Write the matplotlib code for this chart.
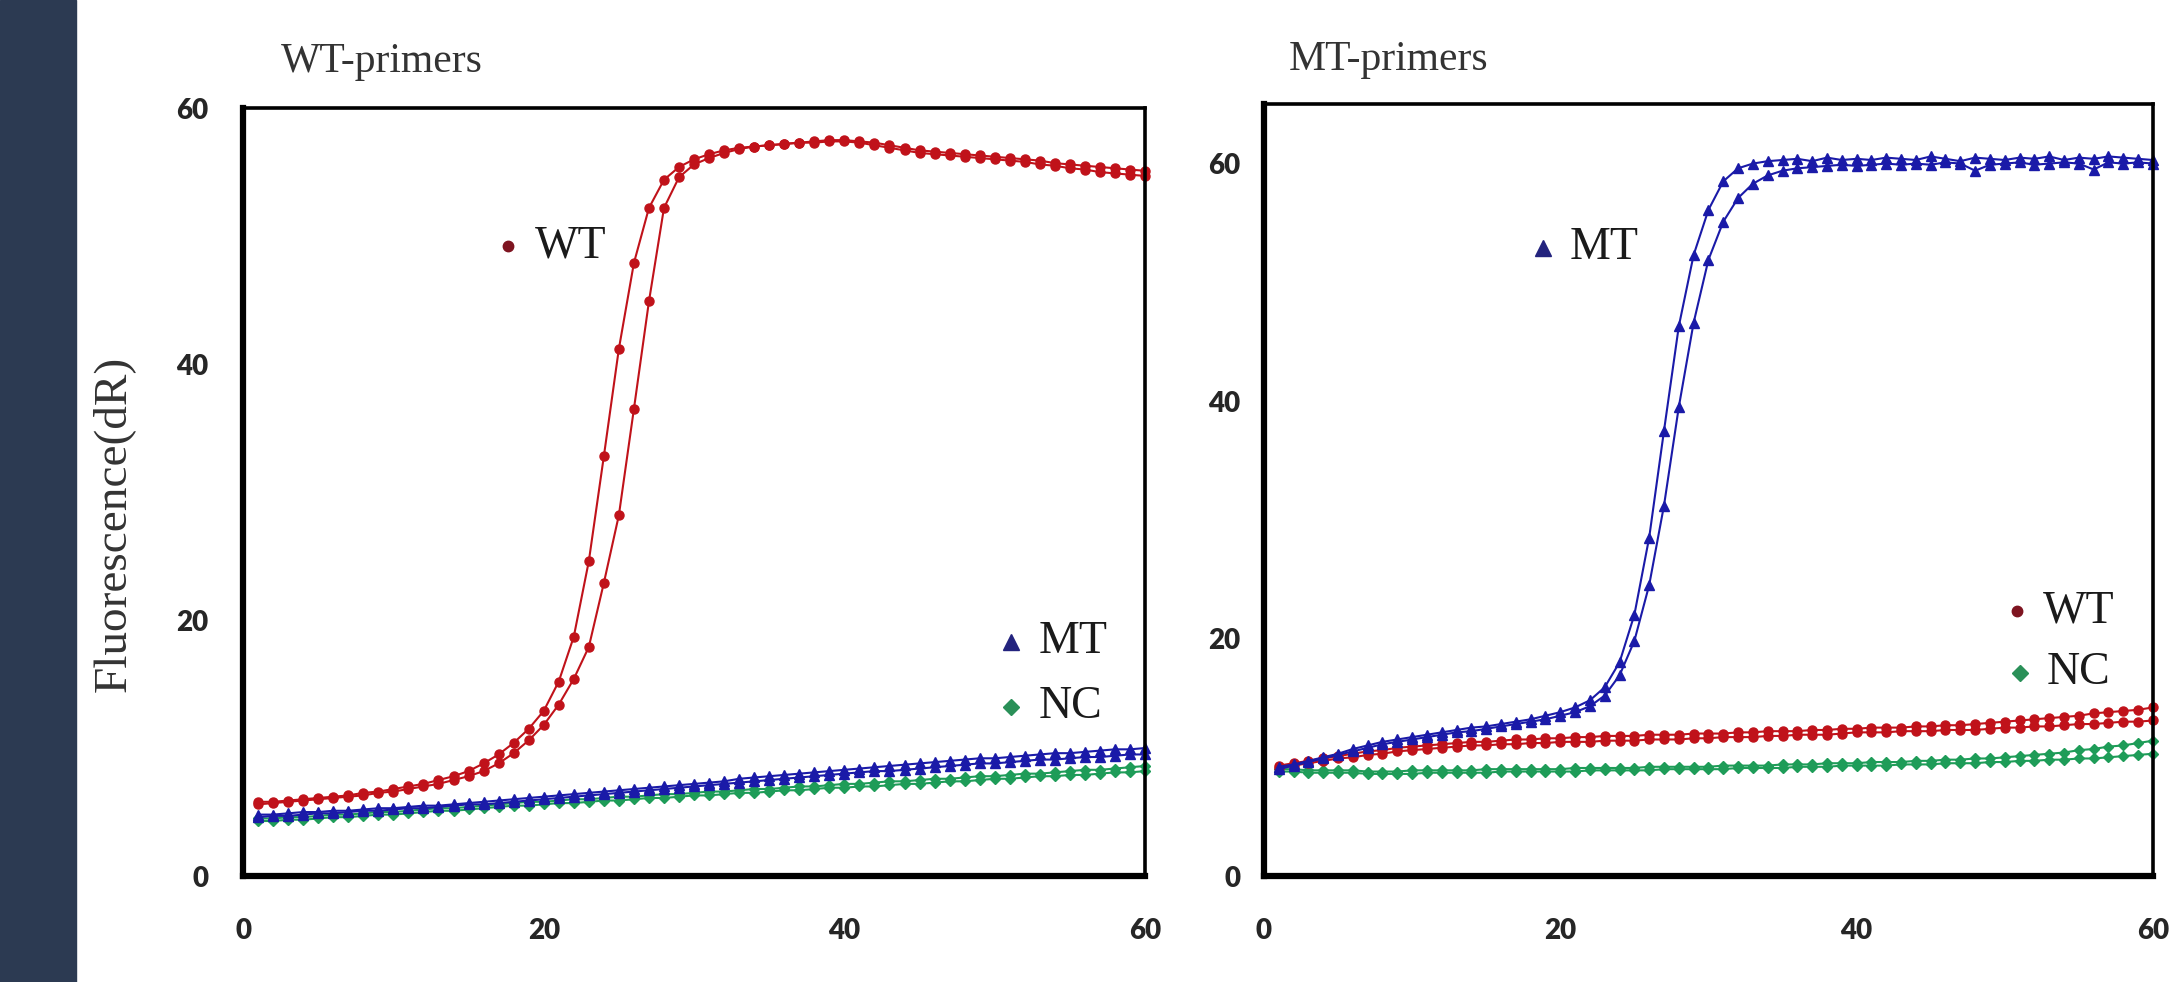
import numpy as np
import matplotlib.pyplot as plt

cycles = np.arange(1, 61)

# WT-primers panel
wtp_wt_1 = [5.8, 5.8, 5.9, 6.0, 6.1, 6.2, 6.3, 6.5, 6.6, 6.8, 7.0, 7.2, 7.5, 7.8, 8.2, 8.8, 9.5, 10.4, 11.5, 12.9,
            15.2, 18.7, 24.6, 32.8, 41.2, 47.9, 52.2, 54.4, 55.4, 56.0, 56.4, 56.7, 56.9, 57.0, 57.1, 57.2, 57.3, 57.4, 57.5, 57.5,
            57.4, 57.3, 57.1, 56.9, 56.7, 56.6, 56.5, 56.4, 56.3, 56.2, 56.1, 56.0, 55.9, 55.7, 55.6, 55.5, 55.4, 55.3, 55.2, 55.1]
wtp_wt_2 = [5.6, 5.7, 5.8, 5.9, 6.0, 6.1, 6.2, 6.3, 6.5, 6.6, 6.8, 7.0, 7.2, 7.5, 7.8, 8.2, 8.8, 9.6, 10.6, 11.8,
            13.4, 15.4, 17.9, 22.9, 28.2, 36.5, 44.9, 52.2, 54.6, 55.6, 56.1, 56.5, 56.8, 57.0, 57.1, 57.2, 57.3, 57.3, 57.4, 57.4,
            57.3, 57.1, 56.9, 56.7, 56.5, 56.4, 56.3, 56.2, 56.1, 56.0, 55.9, 55.8, 55.6, 55.5, 55.3, 55.2, 55.0, 54.9, 54.8, 54.7]
wtp_mt_1 = [4.8, 4.8, 4.9, 5.0, 5.0, 5.1, 5.1, 5.2, 5.3, 5.3, 5.4, 5.5, 5.5, 5.6, 5.7, 5.8, 5.9, 6.0, 6.1, 6.2,
            6.3, 6.4, 6.5, 6.6, 6.7, 6.8, 6.9, 7.0, 7.1, 7.2, 7.3, 7.4, 7.6, 7.7, 7.8, 7.9, 8.0, 8.1, 8.2, 8.3,
            8.4, 8.5, 8.6, 8.7, 8.8, 8.9, 9.0, 9.1, 9.2, 9.2, 9.3, 9.4, 9.5, 9.6, 9.6, 9.7, 9.8, 9.9, 9.9, 10.0]
wtp_mt_2 = [4.6, 4.7, 4.7, 4.8, 4.9, 4.9, 5.0, 5.1, 5.1, 5.2, 5.3, 5.3, 5.4, 5.5, 5.6, 5.6, 5.7, 5.8, 5.9, 6.0,
            6.1, 6.2, 6.3, 6.4, 6.5, 6.6, 6.7, 6.8, 6.9, 7.0, 7.1, 7.2, 7.3, 7.4, 7.5, 7.6, 7.7, 7.8, 7.9, 8.0,
            8.1, 8.2, 8.2, 8.3, 8.4, 8.5, 8.6, 8.7, 8.8, 8.8, 8.9, 9.0, 9.1, 9.1, 9.2, 9.3, 9.3, 9.4, 9.5, 9.5]
wtp_nc_1 = [4.5, 4.5, 4.6, 4.6, 4.7, 4.8, 4.8, 4.9, 5.0, 5.0, 5.1, 5.2, 5.3, 5.3, 5.4, 5.5, 5.6, 5.7, 5.8, 5.8,
            5.9, 6.0, 6.0, 6.1, 6.2, 6.2, 6.3, 6.4, 6.4, 6.5, 6.6, 6.6, 6.7, 6.8, 6.8, 6.9, 7.0, 7.0, 7.1, 7.2,
            7.2, 7.3, 7.4, 7.4, 7.5, 7.6, 7.6, 7.7, 7.8, 7.8, 7.9, 8.0, 8.0, 8.1, 8.2, 8.3, 8.3, 8.4, 8.5, 8.6]
wtp_nc_2 = [4.3, 4.3, 4.4, 4.4, 4.5, 4.6, 4.6, 4.7, 4.8, 4.8, 4.9, 5.0, 5.1, 5.1, 5.2, 5.3, 5.4, 5.5, 5.5, 5.6,
            5.7, 5.7, 5.8, 5.9, 5.9, 6.0, 6.1, 6.1, 6.2, 6.3, 6.3, 6.4, 6.5, 6.5, 6.6, 6.7, 6.7, 6.8, 6.9, 6.9,
            7.0, 7.0, 7.1, 7.2, 7.2, 7.3, 7.4, 7.4, 7.5, 7.6, 7.6, 7.7, 7.8, 7.8, 7.9, 7.9, 8.0, 8.1, 8.1, 8.2]

# MT-primers panel
mtp_mt_1 = [9.2, 9.4, 9.7, 10.0, 10.3, 10.7, 11.0, 11.3, 11.5, 11.7, 11.9, 12.1, 12.3, 12.5, 12.6, 12.8, 13.0, 13.2, 13.5, 13.8,
            14.2, 14.8, 15.9, 18.0, 22.0, 28.5, 37.5, 46.3, 52.3, 56.1, 58.5, 59.6, 60.0, 60.2, 60.3, 60.4, 60.2, 60.5, 60.3, 60.4,
            60.3, 60.5, 60.4, 60.3, 60.6, 60.4, 60.2, 60.5, 60.4, 60.3, 60.5, 60.4, 60.6, 60.3, 60.5, 60.4, 60.6, 60.5, 60.4, 60.3]
mtp_mt_2 = [9.0, 9.3, 9.6, 9.9, 10.2, 10.5, 10.8, 11.1, 11.3, 11.5, 11.7, 11.9, 12.1, 12.2, 12.4, 12.6, 12.8, 13.0, 13.2, 13.5,
            13.8, 14.3, 15.2, 16.9, 19.8, 24.5, 31.2, 39.5, 46.6, 51.9, 55.1, 57.1, 58.3, 59.0, 59.4, 59.6, 59.7, 59.8, 59.9, 59.8,
            59.9, 60.0, 59.9, 60.0, 59.9, 60.1, 60.0, 59.4, 59.9, 60.0, 60.1, 59.9, 60.0, 60.1, 60.0, 59.5, 60.1, 60.0, 60.1, 60.0]
mtp_wt_1 = [9.3, 9.5, 9.7, 9.9, 10.1, 10.3, 10.5, 10.6, 10.8, 10.9, 11.0, 11.1, 11.2, 11.3, 11.3, 11.4, 11.5, 11.5, 11.6, 11.6,
            11.7, 11.7, 11.8, 11.8, 11.8, 11.9, 11.9, 11.9, 12.0, 12.0, 12.0, 12.1, 12.1, 12.2, 12.2, 12.2, 12.3, 12.3, 12.4, 12.4,
            12.5, 12.5, 12.5, 12.6, 12.6, 12.7, 12.7, 12.8, 12.9, 13.0, 13.1, 13.2, 13.3, 13.4, 13.5, 13.7, 13.8, 13.9, 14.0, 14.2]
mtp_wt_2 = [9.1, 9.3, 9.5, 9.7, 9.9, 10.0, 10.2, 10.3, 10.5, 10.6, 10.7, 10.8, 10.9, 11.0, 11.0, 11.1, 11.1, 11.2, 11.2, 11.3,
            11.3, 11.3, 11.4, 11.4, 11.4, 11.5, 11.5, 11.5, 11.6, 11.6, 11.7, 11.7, 11.7, 11.8, 11.8, 11.9, 11.9, 11.9, 12.0, 12.1,
            12.1, 12.1, 12.2, 12.2, 12.2, 12.3, 12.3, 12.3, 12.4, 12.5, 12.5, 12.6, 12.6, 12.7, 12.8, 12.8, 12.9, 13.0, 13.0, 13.1]
mtp_nc_1 = [9.0, 9.0, 8.9, 8.9, 8.9, 8.9, 8.8, 8.8, 8.8, 8.9, 8.9, 8.9, 8.9, 8.9, 9.0, 9.0, 9.0, 9.0, 9.0, 9.0,
            9.1, 9.1, 9.1, 9.1, 9.1, 9.2, 9.2, 9.2, 9.2, 9.2, 9.3, 9.3, 9.3, 9.3, 9.4, 9.4, 9.4, 9.5, 9.5, 9.5,
            9.6, 9.6, 9.6, 9.7, 9.7, 9.8, 9.8, 9.9, 9.9, 10.0, 10.1, 10.2, 10.3, 10.4, 10.6, 10.7, 10.9, 11.0, 11.2, 11.4]
mtp_nc_2 = [8.8, 8.8, 8.7, 8.7, 8.7, 8.7, 8.6, 8.6, 8.6, 8.6, 8.7, 8.7, 8.7, 8.7, 8.7, 8.8, 8.8, 8.8, 8.8, 8.8,
            8.8, 8.9, 8.9, 8.9, 8.9, 8.9, 9.0, 9.0, 9.0, 9.0, 9.0, 9.1, 9.1, 9.1, 9.1, 9.2, 9.2, 9.2, 9.3, 9.3,
            9.3, 9.3, 9.4, 9.4, 9.4, 9.5, 9.5, 9.5, 9.6, 9.6, 9.7, 9.7, 9.8, 9.8, 9.9, 9.9, 10.0, 10.1, 10.2, 10.3]

RED, BLUE, GREEN = "#C0121A", "#1A1AA8", "#1E9C58"
SERIF = "Liberation Serif"

fig = plt.figure(figsize=(21.74, 9.82), dpi=100)
fig.patches.append(plt.Rectangle((0, 0), 76 / 2174, 1, transform=fig.transFigure, color="#2C3A52", zorder=-1))

axL = fig.add_axes([0.1118, 0.1079, 0.4149, 0.782])
axR = fig.add_axes([0.5814, 0.1079, 0.4089, 0.786])


def curve(ax, y, color, marker, ms):
    ax.plot(cycles, y, color=color, lw=1.5, marker=marker, ms=ms, mec=color, mfc=color, clip_on=False)


for y in (wtp_nc_1, wtp_nc_2):
    curve(axL, y, GREEN, "D", 5.5)
for y in (wtp_mt_1, wtp_mt_2):
    curve(axL, y, BLUE, "^", 7)
for y in (wtp_wt_1, wtp_wt_2):
    curve(axL, y, RED, "o", 6.5)

for y in (mtp_nc_1, mtp_nc_2):
    curve(axR, y, GREEN, "D", 5.5)
for y in (mtp_wt_1, mtp_wt_2):
    curve(axR, y, RED, "o", 6.5)
for y in (mtp_mt_1, mtp_mt_2):
    curve(axR, y, BLUE, "^", 7)

axL.set_ylim(0, 60)
axR.set_ylim(0, 65)
for ax, pad in ((axL, 25), (axR, 17)):
    ax.set_xlim(0, 60)
    ax.set_xticks([0, 20, 40, 60])
    ax.set_yticks([0, 20, 40, 60])
    ax.tick_params(axis="y", length=0, pad=pad, labelsize=20, labelcolor="#262626")
    ax.tick_params(axis="x", length=0, pad=30, labelsize=20, labelcolor="#262626")
    for lbl in ax.get_xticklabels() + ax.get_yticklabels():
        lbl.set_fontfamily("Lato")
        lbl.set_fontweight("heavy")
    for side in ("left", "bottom"):
        ax.spines[side].set_linewidth(4.5)
    for side in ("top", "right"):
        ax.spines[side].set_linewidth(2.6)

# in-plot labels
def tag(ax, x, y, marker, ms, mcolor, text):
    ax.plot([x], [y], marker=marker, ms=ms, color=mcolor, ls="none")
    ax.text(x + 1.8, y, text, va="center", ha="left", fontsize=33, family=SERIF, color="#1a1a1a")

tag(axL, 17.6, 49.2, "o", 7.5, "#7E1420", "WT")
tag(axL, 51.1, 18.3, "^", 12, "#23237E", "MT")
tag(axL, 51.1, 13.2, "D", 8, "#2A9058", "NC")
tag(axR, 18.8, 52.9, "^", 12, "#23237E", "MT")
tag(axR, 50.8, 22.3, "o", 7.5, "#7E1420", "WT")
tag(axR, 51.0, 17.1, "D", 8, "#2A9058", "NC")

fig.text(0.129, 0.937, "WT-primers", fontsize=30, family=SERIF, color="#333333", va="center", ha="left")
fig.text(0.593, 0.939, "MT-primers", fontsize=30, family=SERIF, color="#333333", va="center", ha="left")
fig.text(0.052, 0.467, "Fluorescence(dR)", fontsize=34, family=SERIF, color="#333333",
         rotation=90, va="center", ha="center")

fig.savefig("out.png", dpi=100)
